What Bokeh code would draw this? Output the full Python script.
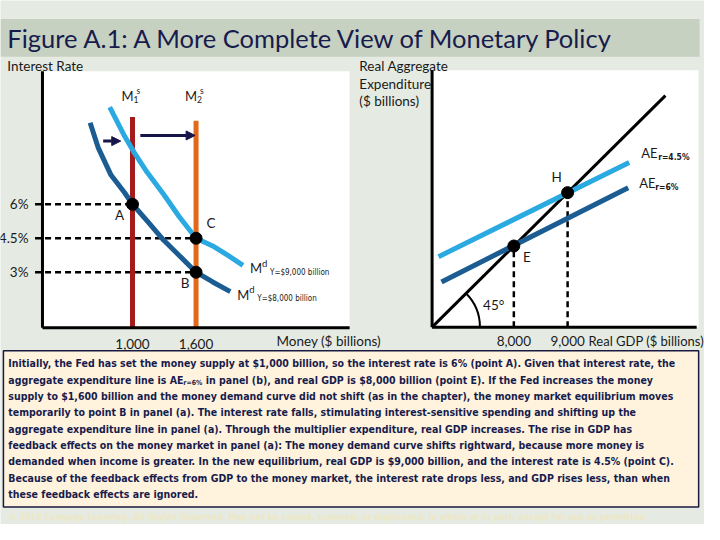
from bokeh.plotting import figure
from bokeh.models import Range1d, Arrow, NormalHead
from bokeh.core.properties import value
from bokeh.embed import file_html
from bokeh.resources import INLINE
import math

# ---------------- data ----------------
title_text = "Figure A.1: A More Complete View of Monetary Policy"

# Panel (a): money market
money_supply = [1000, 1600]           # M1s, M2s ($ billions)
supply_index = ["1", "2"]
supply_top = [9.86, 9.69]             # top of the supply lines (interest rate, %)
rate_levels = [6, 4.5, 3]
rate_labels = ["6%", "4.5%", "3%"]
rate_dash_to = [1000, 1600, 1600]     # money where the dashed level lines end
money_ticks = [1000, 1600]
money_tick_labels = ["1,000", "1,600"]

md8_money = [600, 677, 797, 926, 1000, 1138, 1295, 1443, 1600, 1757, 1923]
md8_rate = [9.6, 8.49, 7.29, 6.51, 6.0, 5.27, 4.41, 3.73, 3.0, 2.57, 2.14]
md9_money = [785, 926, 1018, 1138, 1295, 1443, 1600, 1757, 1905, 2043]
md9_rate = [10.29, 9.0, 8.27, 7.41, 6.43, 5.44, 4.5, 4.16, 3.73, 3.3]

eq_money = [1000, 1600, 1600]
eq_rate = [6, 3, 4.5]
eq_names = ["A", "B", "C"]

shift_arrows_from = [723, 1074]
shift_arrows_to = [889, 1591]
shift_arrows_rate = [8.79, 9.04]

# Panel (b): aggregate expenditure
gdp_ticks = [8000, 9000]
gdp_tick_labels = ["8,000", "9,000"]
diag_gdp = [6480, 10818]               # 45-degree line, AE = Y
ae6_gdp = [6655, 10127]
ae6_ae = [7327, 9091]
ae45_gdp = [6600, 10145]
ae45_ae = [7800, 9564]
pt_gdp = [8000, 9000]
pt_ae = [8000, 9000]
pt_names = ["E", "H"]

body_lines = [
    "Initially, the Fed has set the money supply at $1,000 billion, so the interest rate is 6% (point A). Given that interest rate, the",
    None,
    "supply to $1,600 billion and the money demand curve did not shift (as in the chapter), the money market equilibrium moves",
    "temporarily to point B in panel (a). The interest rate falls, stimulating interest-sensitive spending and shifting up the",
    "aggregate expenditure line in panel (a). Through the multiplier expenditure, real GDP increases. The rise in GDP has",
    "feedback effects on the money market in panel (a): The money demand curve shifts rightward, because more money is",
    "demanded when income is greater. In the new equilibrium, real GDP is $9,000 billion, and the interest rate is 4.5% (point C).",
    "Because of the feedback effects from GDP to the money market, the interest rate drops less, and GDP rises less, than when",
    "these feedback effects are ignored.",
]
line2_a = "aggregate expenditure line is AE"
line2_sub = "r=6%"
line2_b = "in panel (b), and real GDP is $8,000 billion (point E). If the Fed increases the money"
footer_text = ("\u00a9 2010 Cengage Learning. All Rights Reserved. May not be copied, scanned, or duplicated, "
               "in whole or in part, except for use as permitted")

# ---------------- style ----------------
BG = "#e5ebe3"
BAND = "#c7d1c1"
NAVY = "#171c4d"
RED = "#a41b1b"
ORANGE = "#e2691c"
DBLUE = "#1b5d92"
LBLUE = "#2aaae1"
BOX = "#fff3dd"
UI = "Lato"
BODY = "DejaVu Sans Condensed"

W, H = 704, 524
p = figure(width=W, height=H, x_range=Range1d(0, 720), y_range=Range1d(540, 0),
           output_backend="svg", toolbar_location=None, min_border=0)
p.axis.visible = False
p.grid.visible = False
p.outline_line_color = None
p.background_fill_color = BG
p.border_fill_color = BG

# layout ranges (pixel scale of each panel)
k1 = 65 / 600.0
kr = 70 / 3.0
k2 = 0.055
p.extra_x_ranges["money"] = Range1d(1000 - 135 / k1, 1000 + (720 - 135) / k1)
p.extra_y_ranges["rate"] = Range1d(6 - (540 - 210) / kr, 6 + 210 / kr)
p.extra_x_ranges["gdp"] = Range1d(8000 - 525 / k2, 8000 + (720 - 525) / k2)
p.extra_y_ranges["ae"] = Range1d(8000 - (540 - 253) / k2, 8000 + 253 / k2)
L = dict(x_range_name="money", y_range_name="rate")
R = dict(x_range_name="gdp", y_range_name="ae")

def txt(x, y, t, size, color="#1a1a1a", font=UI, align="left", baseline="middle",
        style="normal", xo=0, yo=0, **kw):
    p.text(x=x, y=y, text=t, text_font=value(font), text_font_size=size,
           text_color=color, text_align=align, text_baseline=baseline,
           text_font_style=style, x_offset=xo, y_offset=yo, **kw)

# title band
p.quad(left=[0], right=[715], top=[19], bottom=[58], fill_color=BAND, line_color=None)
txt([7], [39], [title_text], "25.5px", color=NAVY)

# text box (drawn early so labels above it stay visible)
p.quad(left=[3], right=[714], top=[361], bottom=[522], fill_color=BOX,
       line_color="#1a1a40", line_width=1.5)

# panel backgrounds
m_axis, r_axis, m_end, r_top = 150, 0.55, 3050, 11.87
O, gdp_end, ae_top = 6480, 11436, 11291
p.quad(left=[m_axis], right=[m_end], bottom=[r_axis], top=[r_top], fill_color="white", line_color=None, **L)
p.quad(left=[O], right=[gdp_end], bottom=[O], top=[ae_top], fill_color="white", line_color=None, **R)

# axis titles
UIS = "13.5px"
txt([7], [67], ["Interest Rate"], UIS)
txt([367, 367, 367], [68, 86, 104], ["Real Aggregate", "Expenditure", "($ billions)"], UIS)

# ---- panel (a) ----
for lvl, to in zip(rate_levels, rate_dash_to):
    p.line(x=[80, to], y=[lvl, lvl], line_color="black", line_width=2.5, line_dash="6 4", **L)
p.segment(x0=money_supply, x1=money_supply, y0=[r_axis] * 2, y1=supply_top,
          line_color=[RED, ORANGE], line_width=5, **L)
p.line(x=md8_money, y=md8_rate, line_color=DBLUE, line_width=5, line_join="round", **L)
p.line(x=md9_money, y=md9_rate, line_color=LBLUE, line_width=5, line_join="round", **L)
p.line(x=[m_axis, m_axis], y=[r_axis, r_top], line_color="black", line_width=3, **L)
p.line(x=[m_axis, m_end], y=[r_axis, r_axis], line_color="black", line_width=3, **L)
for a, b, r in zip(shift_arrows_from, shift_arrows_to, shift_arrows_rate):
    arr = Arrow(end=NormalHead(size=9, fill_color="#15154a", line_color="#15154a"),
                x_start=a, y_start=r, x_end=b, y_end=r, line_color="#15154a", line_width=3, **L)
    p.add_layout(arr)
p.scatter(x=eq_money, y=eq_rate, size=12, color="black", **L)
txt(eq_money, eq_rate, eq_names, UIS, align="center", xo=[-13, -11, 15], yo=[11, 11, -15], **L)
txt([m_axis] * 3, rate_levels, rate_labels, UIS, align="right", xo=-14, **L)
txt(money_ticks, [r_axis] * 2, money_tick_labels, UIS, align="center", yo=16, **L)
txt([m_axis], [r_axis], ["Money ($ billions)"], UIS, xo=234, yo=13, **L)
# supply labels
txt(money_supply, [10.8] * 2, ["M", "M"], "13px", xo=-11, **L)
txt(money_supply, [10.8] * 2, supply_index, "8.5px", xo=1, yo=4, **L)
txt(money_supply, [10.8] * 2, ["s", "s"], "8.5px", xo=4, yo=-5, **L)
# demand labels
md_end_m = [md9_money[-1], md8_money[-1]]
md_end_r = [md9_rate[-1], md8_rate[-1]]
txt(md_end_m, md_end_r, ["M", "M"], "13px", xo=7, yo=3, **L)
txt(md_end_m, md_end_r, ["d", "d"], "9.5px", xo=19, yo=-2, **L)
txt(md_end_m, md_end_r, ["Y=$9,000 billion", "Y=$8,000 billion"], "8px", font=BODY, xo=27, yo=7, **L)

# ---- panel (b) ----
for g, a in zip(pt_gdp, pt_ae):
    p.line(x=[g, g], y=[O, a], line_color="black", line_width=2.5, line_dash="6 4", **R)
p.line(x=diag_gdp, y=diag_gdp, line_color="black", line_width=3, **R)
p.arc(x=[O], y=[O], radius=890, start_angle=0, end_angle=math.pi / 4,
      line_color="black", line_width=2, **R)
p.line(x=ae6_gdp, y=ae6_ae, line_color=DBLUE, line_width=5, **R)
p.line(x=ae45_gdp, y=ae45_ae, line_color=LBLUE, line_width=5, **R)
p.line(x=[O, O], y=[O, ae_top], line_color="black", line_width=3, **R)
p.line(x=[O, gdp_end - 36], y=[O, O], line_color="black", line_width=3, **R)
p.scatter(x=pt_gdp, y=pt_ae, size=12, color="black", **R)
txt(pt_gdp, pt_ae, pt_names, UIS, align="center", xo=[13, -11], yo=[11, -16], **R)
txt([O], [O], ["45\u00b0"], UIS, xo=51, yo=-22, **R)
txt(gdp_ticks, [O] * 2, gdp_tick_labels, UIS, align="center", yo=14, **R)
txt([gdp_ticks[-1]], [O], ["Real GDP ($ billions)"], "13px", xo=21, yo=14, **R)
ae_end_g = [ae45_gdp[-1], ae6_gdp[-1]]
ae_end_a = [ae45_ae[-1], ae6_ae[-1]]
txt(ae_end_g, ae_end_a, ["AE", "AE"], "13px", xo=[12, 11], yo=[-10, -5], **R)
txt(ae_end_g, ae_end_a, ["r=4.5%", "r=6%"], "8.5px", font=BODY, style="bold",
    xo=[29, 27], yo=[-6, -1], **R)

# ---- text box content ----
BS = "10.5px"
ys = [374 + 16.8 * i for i in range(len(body_lines))]
idx = [i for i, s in enumerate(body_lines) if s is not None]
txt([8] * len(idx), [ys[i] for i in idx], [body_lines[i] for i in idx], BS,
    color=NAVY, font=BODY, style="bold")
txt([8], [ys[1]], [line2_a], BS, color=NAVY, font=BODY, style="bold")
txt([187], [ys[1] + 3], [line2_sub], "7px", color=NAVY, font=BODY, style="bold")
txt([210], [ys[1]], [line2_b], BS, color=NAVY, font=BODY, style="bold")

# footer
txt([8], [532], [footer_text], "9px", color="#eee7c4", font=BODY, style="bold")

open("out.html", "w").write(file_html(p, INLINE))
